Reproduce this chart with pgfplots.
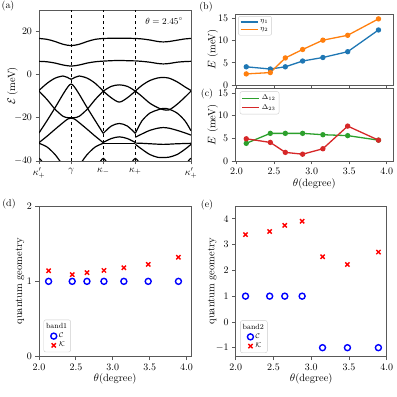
\documentclass[border=0pt]{standalone}
\usepackage{pgfplots}
\pgfplotsset{compat=1.18}
\definecolor{tabblue}{HTML}{1F77B4}
\definecolor{taborange}{HTML}{FF7F0E}
\definecolor{tabgreen}{HTML}{2CA02C}
\definecolor{tabred}{HTML}{D62728}
\pgfplotsset{
  every axis/.append style={
    scale only axis, anchor=south west,
    axis line style={black!65, line width=0.8bp},
    tick style={black!65, line width=0.8bp},
    major tick length=3.5bp, tick align=outside, tick pos=left,
    font=\fontsize{10.5}{12}\selectfont,
    tick label style={font=\fontsize{9.8}{11}\selectfont},
  },
  band/.style={black, line width=1.2bp, smooth, mark=none},
  vline/.style={black, dashed, line width=0.6bp, mark=none},
  lg/.style={legend style={draw=black!20, rounded corners=2bp, fill=white, fill opacity=0.8, text opacity=1,
    font=\fontsize{7.5}{8}\selectfont, inner sep=1.5bp, row sep=-1bp}, legend cell align=left},
  pts/.style={line width=1.3bp, mark=*, mark size=2bp},
  ylab/.style={ylabel style={at={(axis description cs:#1,0.5)}, anchor=center, rotate=0}},
}
\begin{document}
\begin{tikzpicture}
\useasboundingbox (0,0) rectangle (397bp,397bp);

% (a) band structure
\begin{axis}[at={(39bp,236bp)}, width=152bp, height=151bp,
  xmin=0, xmax=4.732, ymin=-40, ymax=30,
  xtick={0,1,2,3,4.732}, xticklabels={$\kappa'_+$,$\gamma$,$\kappa_-$,$\kappa_+$,$\kappa'_+$},
  ytick={-40,-20,0,20}, ylabel={$\mathcal{E}\,$(meV)}, ylab=-0.175]
  % kappa'+ -> gamma -> kappa-
  \addplot[band] coordinates {(0,16.8) (0.25,16.4) (0.5,15.4) (0.75,14.1) (1,13.5) (1.25,14.1) (1.5,15.4) (1.75,16.4) (2,16.8)};
  \addplot[band] coordinates {(0,6.2) (0.25,6.0) (0.5,5.4) (0.75,4.5) (1,4.0) (1.25,4.5) (1.5,5.4) (1.75,6.0) (2,6.3)};
  \addplot[band] coordinates {(0,-7.3) (0.25,-4.0) (0.5,-1.6) (0.75,-0.6) (0.88,-1.2) (1,-2.1) (1.12,-1.2) (1.25,-0.6) (1.5,-1.6) (1.75,-4.0) (2,-7.6)};
  \addplot[band] coordinates {(0,-7.6) (0.25,-11.5) (0.5,-16.0) (0.75,-19.3) (0.9,-19.9) (1,-20.0) (1.1,-19.9) (1.25,-19.3) (1.5,-16.0) (1.75,-11.5) (2,-7.6)};
  \addplot[band] coordinates {(0,-27.0) (0.25,-21.3) (0.5,-15.3) (0.75,-9.0) (0.9,-5.6) (1,-4.3) (1.1,-5.6) (1.25,-9.0) (1.5,-15.3) (1.75,-21.3) (2,-27.2)};
  \addplot[band] coordinates {(0,-31.5) (0.25,-28.5) (0.5,-25.3) (0.75,-22.2) (0.9,-20.5) (1,-20.1) (1.1,-20.5) (1.25,-22.2) (1.5,-25.3) (1.75,-28.5) (2,-31.5)};
  \addplot[band] coordinates {(0,-31.8) (0.25,-33.5) (0.5,-37.0) (0.65,-40.0) (0.8,-43.0)};
  \addplot[band] coordinates {(1.2,-43.0) (1.35,-40.0) (1.5,-37.0) (1.75,-33.5) (2,-31.8)};
  % kappa- -> kappa+
  \addplot[band] coordinates {(2,16.8) (2.25,16.9) (2.5,16.9) (2.75,16.9) (3,16.8)};
  \addplot[band] coordinates {(2,6.3) (2.25,6.5) (2.5,6.6) (2.75,6.5) (3,6.4)};
  \addplot[band] coordinates {(2,-7.6) (2.25,-5.4) (2.5,-4.7) (2.75,-5.4) (3,-7.6)};
  \addplot[band] coordinates {(2,-7.6) (2.25,-10.7) (2.5,-12.7) (2.75,-10.7) (3,-7.6)};
  \addplot[band] coordinates {(2,-27.2) (2.25,-23.8) (2.5,-22.6) (2.75,-23.8) (3,-27.2)};
  \addplot[band] coordinates {(2,-31.4) (2.25,-29.6) (2.5,-28.8) (2.75,-29.6) (3,-31.4)};
  \addplot[band] coordinates {(2,-31.8) (2.25,-31.8) (2.5,-31.8) (2.75,-31.8) (3,-31.8)};
  % kappa+ -> kappa'+
  \addplot[band] coordinates {(3,16.8) (3.2,16.6) (3.45,16.1) (3.7,15.4) (3.87,15.2) (4.05,15.4) (4.3,16.0) (4.55,16.6) (4.732,16.8)};
  \addplot[band] coordinates {(3,6.4) (3.2,6.2) (3.45,5.8) (3.7,5.2) (3.87,5.0) (4.05,5.2) (4.3,5.8) (4.55,6.1) (4.732,6.2)};
  \addplot[band] coordinates {(3,-7.6) (3.2,-5.0) (3.45,-2.7) (3.7,-1.5) (3.87,-1.3) (4.05,-1.6) (4.3,-3.3) (4.55,-5.7) (4.732,-7.3)};
  \addplot[band] coordinates {(3,-7.6) (3.2,-10.0) (3.45,-13.2) (3.7,-15.3) (3.87,-16.2) (4.05,-16.3) (4.3,-13.7) (4.55,-10.3) (4.732,-7.6)};
  \addplot[band] coordinates {(3,-27.2) (3.2,-21.5) (3.45,-17.8) (3.7,-16.3) (3.87,-15.6) (4.05,-16.0) (4.3,-17.8) (4.55,-21.5) (4.732,-26.0)};
  \addplot[band] coordinates {(3,-29.0) (3.2,-27.5) (3.45,-25.8) (3.7,-24.8) (3.87,-24.5) (4.05,-24.8) (4.3,-25.8) (4.55,-27.0) (4.732,-28.0)};
  \addplot[band] coordinates {(3,-31.7) (3.2,-31.8) (3.45,-32.0) (3.7,-32.2) (3.87,-32.3) (4.05,-32.2) (4.3,-32.0) (4.55,-31.9) (4.732,-31.8)};
  \addplot[band] coordinates {(3,-32.3) (3.2,-34.5) (3.45,-37.0) (3.7,-38.3) (3.87,-38.4) (4.05,-38.2) (4.3,-37.0) (4.55,-34.5) (4.732,-32.3)};
  % small arcs at the bottom
  \addplot[band] coordinates {(-0.15,-41.5) (0,-38.8) (0.15,-41.5)};
  \addplot[band] coordinates {(1.85,-41.5) (2,-38.8) (2.15,-41.5)};
  \addplot[band] coordinates {(2.85,-41.5) (3,-38.8) (3.15,-41.5)};
  \addplot[band] coordinates {(4.582,-41.5) (4.732,-38.8) (4.882,-41.5)};
  \addplot[vline] coordinates {(1,-40) (1,30)};
  \addplot[vline] coordinates {(2,-40) (2,30)};
  \addplot[vline] coordinates {(3,-40) (3,30)};
  \node[anchor=north east, font=\fontsize{9}{10}\selectfont] at (rel axis cs:0.97,0.97) {$\theta=2.45^\circ$};
\end{axis}

% (b)
\begin{axis}[at={(235bp,312bp)}, width=158.5bp, height=71bp,
  xmin=1.98, xmax=4.09, ymin=0, ymax=16,
  xtick={2,2.5,3,3.5,4}, xticklabels={}, ytick={0,5,10,15},
  ylabel={$E$ (meV)}, ylab=-0.14, lg, legend style={at={(0.02,0.97)}, anchor=north west}]
  \addlegendimage{tabblue, line width=1.3bp}\addlegendentry{$\eta_1$}
  \addlegendimage{taborange, line width=1.3bp}\addlegendentry{$\eta_2$}
  \addplot[pts, tabblue, forget plot] coordinates {(2.13,4.1) (2.45,3.6) (2.65,4.1) (2.88,5.4) (3.15,6.2) (3.48,7.5) (3.89,12.4)};
  \addplot[pts, taborange, forget plot] coordinates {(2.13,2.5) (2.45,2.8) (2.65,6.1) (2.88,8.0) (3.15,10.1) (3.48,11.2) (3.89,14.9)};
\end{axis}

% (c)
\begin{axis}[at={(235bp,236bp)}, width=158.5bp, height=72.5bp,
  xmin=1.98, xmax=4.09, ymin=0, ymax=16,
  xtick={2,2.5,3,3.5,4}, ytick={0,5,10,15},
  xticklabel style={/pgf/number format/.cd, fixed, fixed zerofill, precision=1},
  ylabel={$E$ (meV)}, ylab=-0.14, xlabel={$\theta$(degree)}, xlabel style={yshift=3bp},
  lg, legend style={at={(0.03,0.96)}, anchor=north west}]
  \addlegendimage{tabgreen, line width=1.3bp}\addlegendentry{$\Delta_{12}$}
  \addlegendimage{tabred, line width=1.3bp}\addlegendentry{$\Delta_{23}$}
  \addplot[pts, tabgreen, forget plot] coordinates {(2.13,3.9) (2.45,6.1) (2.65,6.1) (2.88,6.1) (3.15,5.8) (3.48,5.6) (3.89,4.6)};
  \addplot[pts, tabred, forget plot] coordinates {(2.13,4.9) (2.45,4.1) (2.65,1.9) (2.88,1.5) (3.15,2.7) (3.48,7.7) (3.89,4.6)};
\end{axis}

% (d)
\begin{axis}[at={(39bp,40.3bp)}, width=152bp, height=150.7bp,
  xmin=2, xmax=4.06, ymin=0, ymax=2,
  xtick={2,2.5,3,3.5,4}, ytick={0,1,2},
  xticklabel style={/pgf/number format/.cd, fixed, fixed zerofill, precision=1},
  ylabel={quantum geometry}, ylab=-0.125, xlabel={$\theta$(degree)}, xlabel style={yshift=3bp},
  lg, legend style={at={(0.03,0.03)}, anchor=south west}]
  \addlegendimage{empty legend}\addlegendentry{\hspace{-0.45cm}band1}
  \addplot[only marks, blue, mark=o, mark size=3bp, line width=1.4bp] coordinates {(2.13,1) (2.45,1) (2.65,1) (2.88,1) (3.15,1) (3.48,1) (3.89,1)};
  \addlegendentry{$\mathcal{C}$}
  \addplot[only marks, red, mark=x, mark size=3bp, line width=1.4bp] coordinates {(2.13,1.14) (2.45,1.09) (2.65,1.115) (2.88,1.145) (3.15,1.18) (3.48,1.225) (3.89,1.32)};
  \addlegendentry{$\mathcal{K}$}
\end{axis}

% (e)
\begin{axis}[at={(235.7bp,40.3bp)}, width=151bp, height=150.7bp,
  xmin=2, xmax=4, ymin=-1.35, ymax=4.5,
  xtick={2,2.5,3,3.5,4}, ytick={-1,0,1,2,3,4},
  xticklabel style={/pgf/number format/.cd, fixed, fixed zerofill, precision=1},
  ylabel={quantum geometry}, ylab=-0.155, xlabel={$\theta$(degree)}, xlabel style={yshift=3bp},
  lg, legend style={at={(0.03,0.025)}, anchor=south west}]
  \addlegendimage{empty legend}\addlegendentry{\hspace{-0.45cm}band2}
  \addplot[only marks, blue, mark=o, mark size=3bp, line width=1.4bp] coordinates {(2.13,1) (2.45,1) (2.65,1) (2.88,1) (3.15,-1) (3.48,-1) (3.89,-1)};
  \addlegendentry{$\mathcal{C}$}
  \addplot[only marks, red, mark=x, mark size=3bp, line width=1.4bp] coordinates {(2.13,3.39) (2.45,3.51) (2.65,3.75) (2.88,3.91) (3.15,2.53) (3.48,2.23) (3.89,2.71)};
  \addlegendentry{$\mathcal{K}$}
\end{axis}

\node[font=\fontsize{10}{12}\selectfont] at (8bp,391bp) {(a)};
\node[font=\fontsize{10}{12}\selectfont] at (206bp,390bp) {(b)};
\node[font=\fontsize{10}{12}\selectfont] at (207bp,303bp) {(c)};
\node[font=\fontsize{10}{12}\selectfont] at (9bp,193bp) {(d)};
\node[font=\fontsize{10}{12}\selectfont] at (207bp,192bp) {(e)};
\end{tikzpicture}
\end{document}
